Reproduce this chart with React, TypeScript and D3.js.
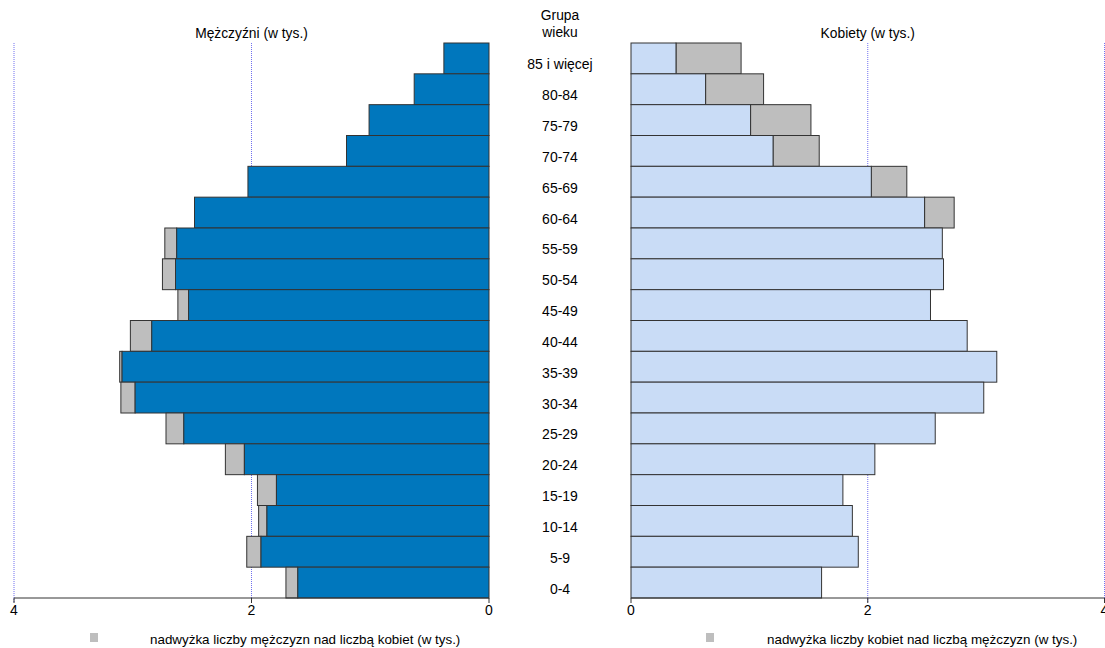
import React from "react";
import * as d3 from "d3";

const ageGroups = ["85 i więcej","80-84","75-79","70-74","65-69","60-64","55-59","50-54","45-49","40-44","35-39","30-34","25-29","20-24","15-19","10-14","5-9","0-4"];
const men = [0.38,0.63,1.01,1.20,2.03,2.48,2.73,2.75,2.62,3.02,3.11,3.10,2.72,2.22,1.95,1.94,2.04,1.71];
const women = [0.93,1.12,1.52,1.59,2.33,2.73,2.63,2.64,2.53,2.84,3.09,2.98,2.57,2.06,1.79,1.87,1.92,1.61];
const ticks = [0, 2, 4];

const W = 1105, H = 648;
const TOP = 43, BOTTOM = 598;
const FONT = "Liberation Sans, Arial, sans-serif";
const MEN_COLOR = "#0077BD";
const WOMEN_COLOR = "#C9DCF6";
const EXCESS = "#BEBEBE";
const STROKE = "#333";
const GRID = "#7070f0";

export default function App() {
  const y = d3.scaleBand<string>().domain(ageGroups).range([TOP, BOTTOM]).padding(0);
  const xL = d3.scaleLinear().domain([0, 4]).range([489, 14]);
  const xR = d3.scaleLinear().domain([0, 4]).range([631, 1104.5]);
  const bw = y.bandwidth();

  return (
    <svg width={W} height={H} style={{ position: "absolute", left: 0, top: 0 }} fontFamily={FONT}>
      <rect width={W} height={H} fill="#fff" />
      {/* gridlines */}
      {[2, 4].map((t) => (
        <g key={"g" + t}>
          <line x1={xL(t)} x2={xL(t)} y1={TOP} y2={BOTTOM + 5} stroke={GRID} strokeWidth={1} strokeDasharray="1,1" />
          <line x1={xR(t)} x2={xR(t)} y1={TOP} y2={BOTTOM + 5} stroke={GRID} strokeWidth={1} strokeDasharray="1,1" />
        </g>
      ))}
      {/* titles */}
      <text x={xL(2)} y={38} textAnchor="middle" fontSize={13.8}>Mężczyźni (w tys.)</text>
      <text x={xR(2)} y={38} textAnchor="middle" fontSize={13.8}>Kobiety (w tys.)</text>
      <text x={560} y={20} textAnchor="middle" fontSize={13.8}>Grupa</text>
      <text x={560} y={37} textAnchor="middle" fontSize={13.8}>wieku</text>
      {/* men bars */}
      {ageGroups.map((g, i) => {
        const m = men[i], w = women[i];
        const base = Math.min(m, w);
        const y0 = y(g)!;
        return (
          <g key={"m" + g}>
            {m > w && (
              <rect x={xL(m)} y={y0} width={xL(w) - xL(m)} height={bw} fill={EXCESS} stroke={STROKE} strokeWidth={1} />
            )}
            <rect x={xL(base)} y={y0} width={xL(0) - xL(base)} height={bw} fill={MEN_COLOR} stroke={STROKE} strokeWidth={1} />
          </g>
        );
      })}
      {/* women bars */}
      {ageGroups.map((g, i) => {
        const m = men[i], w = women[i];
        const base = Math.min(m, w);
        const y0 = y(g)!;
        return (
          <g key={"w" + g}>
            {w > m && (
              <rect x={xR(m)} y={y0} width={xR(w) - xR(m)} height={bw} fill={EXCESS} stroke={STROKE} strokeWidth={1} />
            )}
            <rect x={xR(0)} y={y0} width={xR(base) - xR(0)} height={bw} fill={WOMEN_COLOR} stroke={STROKE} strokeWidth={1} />
          </g>
        );
      })}
      {/* age labels */}
      {ageGroups.map((g) => (
        <text key={"l" + g} x={560} y={y(g)! + bw / 2 + 11} textAnchor="middle" fontSize={14}>{g}</text>
      ))}
      {/* axes */}
      <line x1={xL(4)} x2={xL(0)} y1={BOTTOM} y2={BOTTOM} stroke={STROKE} strokeWidth={1} />
      <line x1={xR(0)} x2={xR(4)} y1={BOTTOM} y2={BOTTOM} stroke={STROKE} strokeWidth={1} />
      {ticks.map((t) => (
        <g key={"t" + t}>
          <line x1={xL(t)} x2={xL(t)} y1={BOTTOM} y2={BOTTOM + 5} stroke={STROKE} strokeWidth={1} />
          <text x={xL(t)} y={BOTTOM + 17} textAnchor="middle" fontSize={14}>{t}</text>
          <line x1={xR(t)} x2={xR(t)} y1={BOTTOM} y2={BOTTOM + 5} stroke={STROKE} strokeWidth={1} />
          <text x={xR(t)} y={BOTTOM + 17} textAnchor="middle" fontSize={14}>{t}</text>
        </g>
      ))}
      {/* legends */}
      <rect x={90} y={633} width={8} height={9} fill={EXCESS} />
      <text x={150} y={644} fontSize={13.4}>nadwyżka liczby mężczyzn nad liczbą kobiet (w tys.)</text>
      <rect x={706} y={633} width={8} height={9} fill={EXCESS} />
      <text x={767} y={644} fontSize={13.4}>nadwyżka liczby kobiet nad liczbą mężczyzn (w tys.)</text>
    </svg>
  );
}
